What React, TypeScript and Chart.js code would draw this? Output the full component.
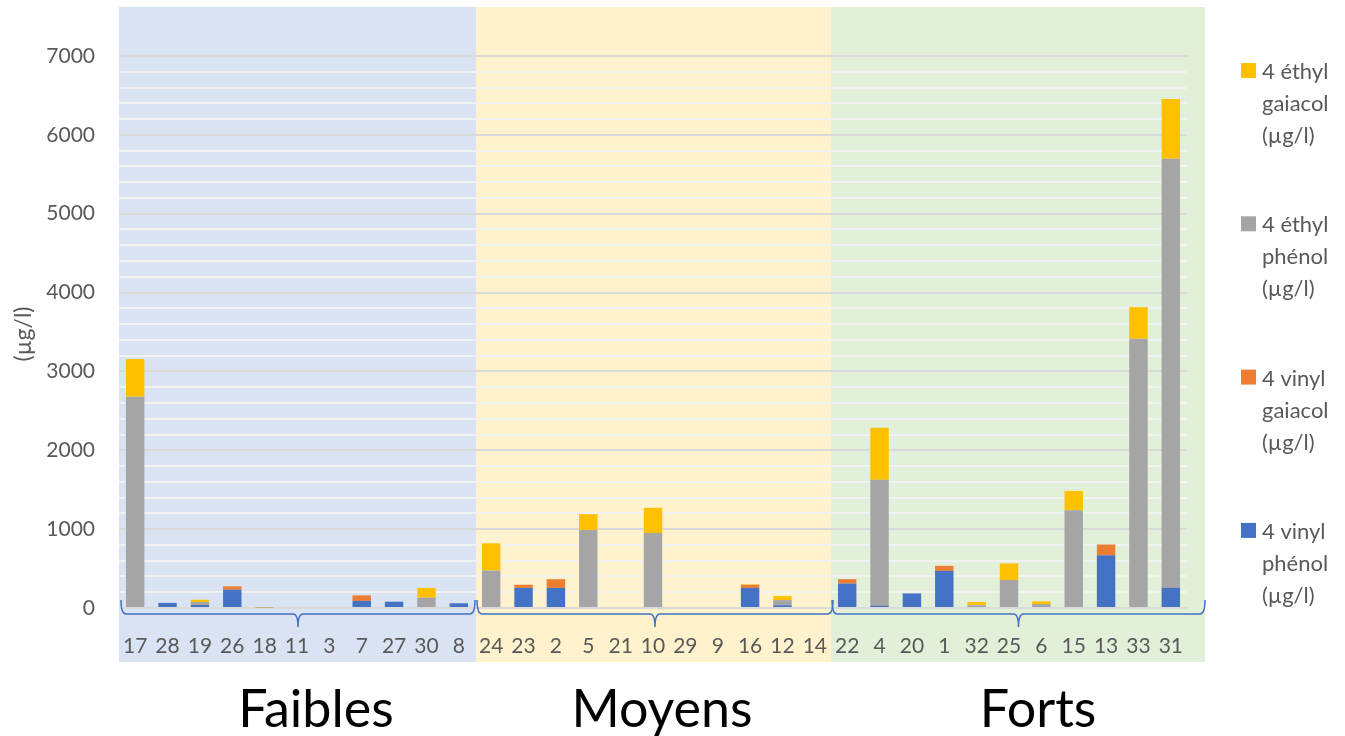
import React, { useEffect, useRef } from "react";
import { Chart, registerables } from "chart.js";

Chart.register(...registerables);

const categories = ["17","28","19","26","18","11","3","7","27","30","8","24","23","2","5","21","10","29","9","16","12","14","22","4","20","1","32","25","6","15","13","33","31"];

const vinylPhenol = [0,65,40,232,0,0,0,90,80,0,60, 0,255,255,0,0,0,0,0,255,35,0, 310,30,185,470,0,0,0,0,670,0,255];
const vinylGaiacol = [0,0,5,43,0,0,0,70,0,0,0, 0,40,110,0,0,0,0,0,40,0,0, 55,0,0,65,0,0,0,0,135,0,0];
const ethylPhenol = [2680,0,30,0,5,0,0,0,0,130,0, 475,0,0,990,0,950,0,0,0,65,0, 0,1595,0,0,35,355,50,1240,0,3415,5443];
const ethylGaiacol = [477,0,30,0,8,0,0,0,0,125,0, 345,0,0,200,0,320,0,0,5,50,0, 0,660,0,0,40,210,35,245,0,400,757];

const seriesNames = ["4 vinyl phénol (µg/l)", "4 vinyl gaiacol (µg/l)", "4 éthyl phénol (µg/l)", "4 éthyl gaiacol (µg/l)"];
const seriesColors = ["#4472C4", "#ED7D31", "#A5A5A5", "#FFC000"];

const groupNames = ["Faibles", "Moyens", "Forts"];
const groupColors = ["#DAE3F3", "#FFF2CC", "#E2F0D9"];

const legendLines = [
  ["4 éthyl", "gaiacol", "(µg/l)"],
  ["4 éthyl", "phénol", "(µg/l)"],
  ["4 vinyl", "gaiacol", "(µg/l)"],
  ["4 vinyl", "phénol", "(µg/l)"],
];
const legendColors = ["#FFC000", "#A5A5A5", "#ED7D31", "#4472C4"];

const FONT = "Lato, 'Open Sans', sans-serif";

const decorPlugin = {
  id: "decor",
  beforeDraw(chart: any) {
    const ctx = chart.ctx;
    const ca = chart.chartArea;
    const bounds = [ca.left, 476, 831, 1205];
    ctx.save();
    for (let i = 0; i < 3; i++) {
      ctx.fillStyle = groupColors[i];
      ctx.fillRect(bounds[i], 7, bounds[i + 1] - bounds[i], 655);
    }
    ctx.restore();
  },
  afterDraw(chart: any) {
    const ctx = chart.ctx;
    ctx.save();
    // y title
    ctx.fillStyle = "#595959";
    ctx.font = `23px ${FONT}`;
    ctx.textAlign = "center";
    ctx.textBaseline = "middle";
    ctx.translate(24, 334);
    ctx.rotate(-Math.PI / 2);
    ctx.fillText("(µg/l)", 0, 0);
    ctx.restore();

    // braces
    const braceEnds = [[121, 475], [477, 833], [832, 1205]];
    ctx.save();
    ctx.strokeStyle = "#4472C4";
    ctx.lineWidth = 1.5;
    const yTop = 600, yH = 614, yTip = 627, r = 5;
    for (const [x0, x1] of braceEnds) {
      const xm = (x0 + x1) / 2;
      ctx.beginPath();
      ctx.moveTo(x0, yTop);
      ctx.quadraticCurveTo(x0, yH, x0 + r, yH);
      ctx.lineTo(xm - r, yH);
      ctx.quadraticCurveTo(xm, yH, xm, yTip);
      ctx.quadraticCurveTo(xm, yH, xm + r, yH);
      ctx.lineTo(x1 - r, yH);
      ctx.quadraticCurveTo(x1, yH, x1, yTop);
      ctx.stroke();
    }
    ctx.restore();

    // group names
    ctx.save();
    ctx.fillStyle = "#000000";
    ctx.font = `52px ${FONT}`;
    ctx.textAlign = "center";
    ctx.textBaseline = "alphabetic";
    const groupX = [316, 662, 1038];
    groupNames.forEach((n, i) => ctx.fillText(n, groupX[i], 727));
    ctx.restore();

    // legend
    ctx.save();
    ctx.font = `22px ${FONT}`;
    ctx.textAlign = "left";
    ctx.textBaseline = "middle";
    legendLines.forEach((lines, i) => {
      const y0 = 72 + i * 153.3;
      ctx.fillStyle = legendColors[i];
      ctx.fillRect(1241, y0 - 9, 15, 15);
      ctx.fillStyle = "#595959";
      lines.forEach((t, j) => ctx.fillText(t, 1262, y0 + j * 32));
    });
    ctx.restore();
  },
};

export default function App() {
  const ref = useRef<HTMLCanvasElement>(null);
  useEffect(() => {
    document.body.style.margin = "0";
    document.body.style.overflow = "hidden";
    const data = [vinylPhenol, vinylGaiacol, ethylPhenol, ethylGaiacol];
    const chart = new Chart(ref.current!, {
      type: "bar",
      data: {
        labels: categories,
        datasets: data.map((d, i) => ({
          label: seriesNames[i],
          data: d,
          backgroundColor: seriesColors[i],
          borderWidth: 0,
          barPercentage: 0.57,
          categoryPercentage: 1,
          stack: "s",
        })),
      },
      options: {
        responsive: false,
        animation: false,
        layout: { padding: { left: 0, right: 158, top: 56, bottom: 0 } },
        plugins: { legend: { display: false }, tooltip: { enabled: false } },
        scales: {
          x: {
            stacked: true,
            grid: { display: false },
            border: { display: false },
            ticks: {
              color: "#595959",
              font: { family: FONT, size: 21 },
              padding: 18,
              autoSkip: false,
              maxRotation: 0,
              minRotation: 0,
            },
            afterFit: (s: any) => { s.height = 128; },
          },
          y: {
            stacked: true,
            min: 0,
            max: 7000,
            border: { display: false },
            grid: {
              drawTicks: false,
              color: (c: any) => (c.tick && c.tick.value % 1000 === 0 ? "#D9D9D9" : "#F2F2F2"),
              lineWidth: 2,
            },
            ticks: {
              stepSize: 200,
              color: "#595959",
              font: { family: FONT, size: 21 },
              padding: 24,
              autoSkip: false,
              callback: (v: any) => (Number(v) % 1000 === 0 ? String(v) : ""),
            },
            afterFit: (s: any) => { s.width = 119; },
          },
        },
      },
      plugins: [decorPlugin],
    });
    return () => chart.destroy();
  }, []);
  return <canvas ref={ref} width={1345} height={736} style={{ display: "block" }} />;
}
